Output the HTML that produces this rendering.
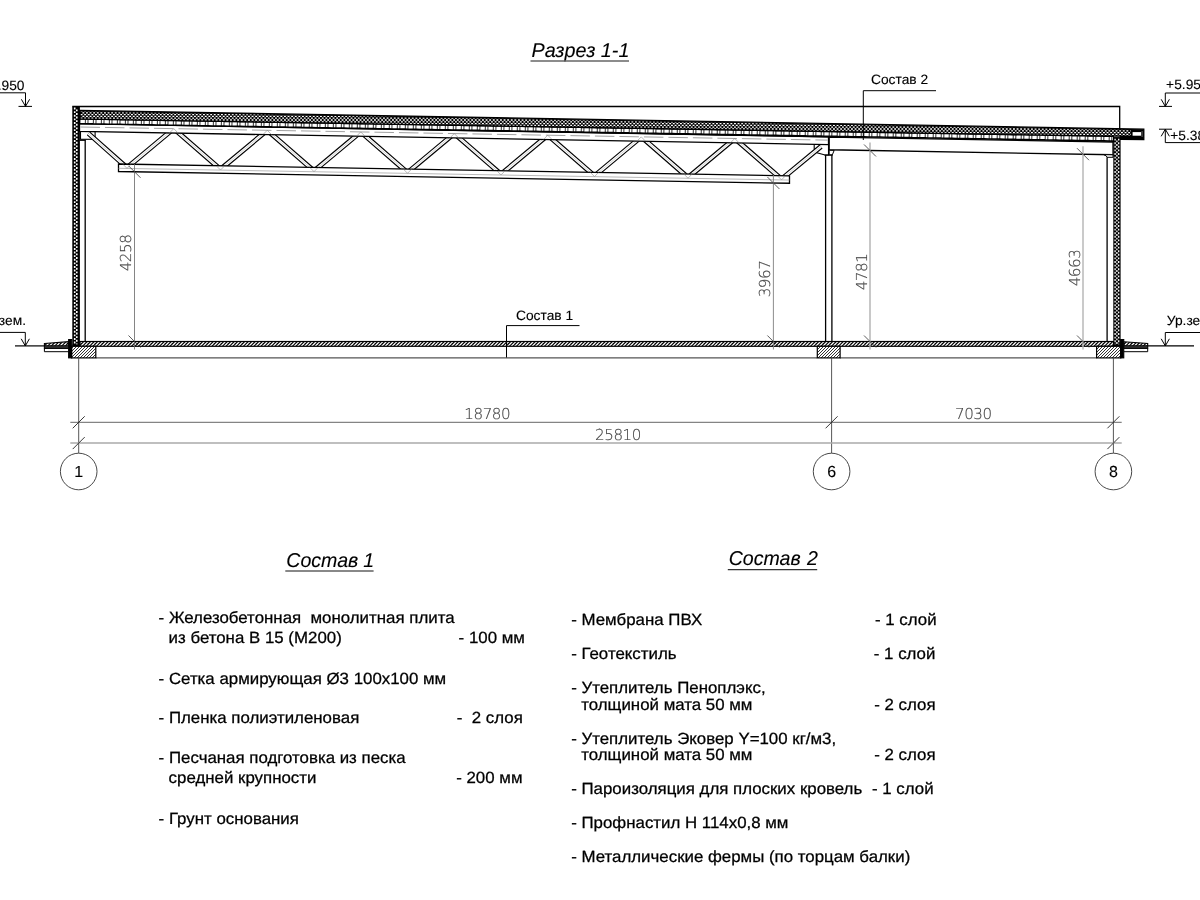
<!DOCTYPE html>
<html lang="ru"><head><meta charset="utf-8"><title>Разрез 1-1</title>
<style>
html,body{margin:0;padding:0;background:#fff;}
body{width:1200px;height:900px;overflow:hidden;font-family:"Liberation Sans",sans-serif;}
svg{display:block;position:absolute;left:0;top:0;}
svg{filter:grayscale(1);}
text{font-family:"Liberation Sans",sans-serif;fill:#000;white-space:pre;text-rendering:geometricPrecision;stroke:#000;stroke-width:0.25px;}
.ttl{font-size:19px;font-style:italic;stroke-width:0.1px;}
.b{font-size:15.3px;}
.s{font-size:13px;stroke-width:0.12px;}
.d{font-family:"DejaVu Sans Light","DejaVu Sans",sans-serif;font-weight:200;font-size:15.1px;letter-spacing:-0.45px;fill:#444;stroke:#444;stroke-width:0.15px;}
.k{stroke:#000;fill:none;}
</style></head><body>
<svg width="1200" height="900" viewBox="0 0 1200 900">
<defs>
<pattern id="fl" width="7" height="7" patternUnits="userSpaceOnUse">
<rect width="7" height="7" fill="#000"/>
<path d="M-3.5,7L3.5,0M0,7L7,0M3.5,7L10.5,0M-3.5,3.5L3.5,-3.5M3.5,10.5L10.5,3.5M0,10.5L7,3.5M0,3.5L3.5,0M7,3.5L3.5,7" stroke="#fff" stroke-width="1.25"/>
</pattern>
<pattern id="fd" width="3" height="3" patternUnits="userSpaceOnUse">
<rect width="3" height="3" fill="#fff"/>
<path d="M-0.75,0.75L0.75,-0.75M-0.5,3.5L3.5,-0.5M2.25,3.75L3.75,2.25" stroke="#000" stroke-width="0.8"/>
</pattern>
</defs>
<rect width="1200" height="900" fill="#fff"/>

<text class="ttl" transform="translate(531.5,57) scale(1.04,1.05)">Разрез 1-1</text>
<line x1="530.50" y1="61.00" x2="629.00" y2="61.00" stroke="#666" stroke-width="1.5" />
<g id="truss">
<rect x="80.50" y="131.50" width="14.60" height="7.80" fill="#fff" stroke="#000" stroke-width="1.1"/>
<polygon points="814.20,144.28 828.50,144.54 828.50,155.00 825.00,155.00 817.00,152.70 814.20,148.80" fill="#fff" stroke="#000" stroke-width="1.1" />
<line x1="88.50" y1="133.50" x2="127.00" y2="167.65" stroke="#000" stroke-width="5.0" />
<line x1="127.00" y1="167.65" x2="173.75" y2="128.65" stroke="#000" stroke-width="5.0" />
<line x1="173.75" y1="128.65" x2="220.50" y2="169.29" stroke="#000" stroke-width="5.0" />
<line x1="220.50" y1="169.29" x2="267.25" y2="130.29" stroke="#000" stroke-width="5.0" />
<line x1="267.25" y1="130.29" x2="314.00" y2="170.93" stroke="#000" stroke-width="5.0" />
<line x1="314.00" y1="170.93" x2="360.75" y2="131.93" stroke="#000" stroke-width="5.0" />
<line x1="360.75" y1="131.93" x2="407.50" y2="172.57" stroke="#000" stroke-width="5.0" />
<line x1="407.50" y1="172.57" x2="454.25" y2="133.57" stroke="#000" stroke-width="5.0" />
<line x1="454.25" y1="133.57" x2="501.00" y2="174.21" stroke="#000" stroke-width="5.0" />
<line x1="501.00" y1="174.21" x2="547.75" y2="135.21" stroke="#000" stroke-width="5.0" />
<line x1="547.75" y1="135.21" x2="594.50" y2="175.85" stroke="#000" stroke-width="5.0" />
<line x1="594.50" y1="175.85" x2="641.25" y2="136.85" stroke="#000" stroke-width="5.0" />
<line x1="641.25" y1="136.85" x2="688.00" y2="177.49" stroke="#000" stroke-width="5.0" />
<line x1="688.00" y1="177.49" x2="734.75" y2="138.49" stroke="#000" stroke-width="5.0" />
<line x1="734.75" y1="138.49" x2="781.50" y2="179.13" stroke="#000" stroke-width="5.0" />
<line x1="781.50" y1="179.13" x2="821.00" y2="146.50" stroke="#000" stroke-width="5.0" />
<line x1="88.50" y1="133.50" x2="127.00" y2="167.65" stroke="#fff" stroke-width="2.7" />
<line x1="127.00" y1="167.65" x2="173.75" y2="128.65" stroke="#fff" stroke-width="2.7" />
<line x1="173.75" y1="128.65" x2="220.50" y2="169.29" stroke="#fff" stroke-width="2.7" />
<line x1="220.50" y1="169.29" x2="267.25" y2="130.29" stroke="#fff" stroke-width="2.7" />
<line x1="267.25" y1="130.29" x2="314.00" y2="170.93" stroke="#fff" stroke-width="2.7" />
<line x1="314.00" y1="170.93" x2="360.75" y2="131.93" stroke="#fff" stroke-width="2.7" />
<line x1="360.75" y1="131.93" x2="407.50" y2="172.57" stroke="#fff" stroke-width="2.7" />
<line x1="407.50" y1="172.57" x2="454.25" y2="133.57" stroke="#fff" stroke-width="2.7" />
<line x1="454.25" y1="133.57" x2="501.00" y2="174.21" stroke="#fff" stroke-width="2.7" />
<line x1="501.00" y1="174.21" x2="547.75" y2="135.21" stroke="#fff" stroke-width="2.7" />
<line x1="547.75" y1="135.21" x2="594.50" y2="175.85" stroke="#fff" stroke-width="2.7" />
<line x1="594.50" y1="175.85" x2="641.25" y2="136.85" stroke="#fff" stroke-width="2.7" />
<line x1="641.25" y1="136.85" x2="688.00" y2="177.49" stroke="#fff" stroke-width="2.7" />
<line x1="688.00" y1="177.49" x2="734.75" y2="138.49" stroke="#fff" stroke-width="2.7" />
<line x1="734.75" y1="138.49" x2="781.50" y2="179.13" stroke="#fff" stroke-width="2.7" />
<line x1="781.50" y1="179.13" x2="821.00" y2="146.50" stroke="#fff" stroke-width="2.7" />
<line x1="88.50" y1="133.50" x2="127.00" y2="167.65" stroke="#aaa" stroke-width="0.5" />
<line x1="127.00" y1="167.65" x2="173.75" y2="128.65" stroke="#aaa" stroke-width="0.5" />
<line x1="173.75" y1="128.65" x2="220.50" y2="169.29" stroke="#aaa" stroke-width="0.5" />
<line x1="220.50" y1="169.29" x2="267.25" y2="130.29" stroke="#aaa" stroke-width="0.5" />
<line x1="267.25" y1="130.29" x2="314.00" y2="170.93" stroke="#aaa" stroke-width="0.5" />
<line x1="314.00" y1="170.93" x2="360.75" y2="131.93" stroke="#aaa" stroke-width="0.5" />
<line x1="360.75" y1="131.93" x2="407.50" y2="172.57" stroke="#aaa" stroke-width="0.5" />
<line x1="407.50" y1="172.57" x2="454.25" y2="133.57" stroke="#aaa" stroke-width="0.5" />
<line x1="454.25" y1="133.57" x2="501.00" y2="174.21" stroke="#aaa" stroke-width="0.5" />
<line x1="501.00" y1="174.21" x2="547.75" y2="135.21" stroke="#aaa" stroke-width="0.5" />
<line x1="547.75" y1="135.21" x2="594.50" y2="175.85" stroke="#aaa" stroke-width="0.5" />
<line x1="594.50" y1="175.85" x2="641.25" y2="136.85" stroke="#aaa" stroke-width="0.5" />
<line x1="641.25" y1="136.85" x2="688.00" y2="177.49" stroke="#aaa" stroke-width="0.5" />
<line x1="688.00" y1="177.49" x2="734.75" y2="138.49" stroke="#aaa" stroke-width="0.5" />
<line x1="734.75" y1="138.49" x2="781.50" y2="179.13" stroke="#aaa" stroke-width="0.5" />
<line x1="781.50" y1="179.13" x2="821.00" y2="146.50" stroke="#aaa" stroke-width="0.5" />
<polygon points="118.50,164.00 789.50,175.77 789.50,183.27 118.50,171.50" fill="#fff" stroke="#000" stroke-width="1.3" />
<line x1="118.50" y1="168.30" x2="789.50" y2="180.07" stroke="#999" stroke-width="0.7" />
<polygon points="79.50,123.70 828.50,136.84 828.50,144.54 79.50,131.40" fill="#fff" stroke="#000" stroke-width="1.3" />
<line x1="80.50" y1="127.02" x2="827.50" y2="140.12" stroke="#888" stroke-width="0.8" stroke-dasharray="19.5 5"/>
<path d="M169.55,132.85L173.75,128.65L177.95,132.85" stroke="#888" stroke-width="0.6" fill="none"/>
<path d="M263.05,134.49L267.25,130.29L271.45,134.49" stroke="#888" stroke-width="0.6" fill="none"/>
<path d="M356.55,136.13L360.75,131.93L364.95,136.13" stroke="#888" stroke-width="0.6" fill="none"/>
<path d="M450.05,137.77L454.25,133.57L458.45,137.77" stroke="#888" stroke-width="0.6" fill="none"/>
<path d="M543.55,139.41L547.75,135.21L551.95,139.41" stroke="#888" stroke-width="0.6" fill="none"/>
<path d="M637.05,141.05L641.25,136.85L645.45,141.05" stroke="#888" stroke-width="0.6" fill="none"/>
<path d="M730.55,142.69L734.75,138.49L738.95,142.69" stroke="#888" stroke-width="0.6" fill="none"/>
<path d="M123.00,164.35L127.00,168.35L131.00,164.35" stroke="#888" stroke-width="0.6" fill="none"/>
<path d="M216.50,165.99L220.50,169.99L224.50,165.99" stroke="#888" stroke-width="0.6" fill="none"/>
<path d="M310.00,167.63L314.00,171.63L318.00,167.63" stroke="#888" stroke-width="0.6" fill="none"/>
<path d="M403.50,169.27L407.50,173.27L411.50,169.27" stroke="#888" stroke-width="0.6" fill="none"/>
<path d="M497.00,170.91L501.00,174.91L505.00,170.91" stroke="#888" stroke-width="0.6" fill="none"/>
<path d="M590.50,172.55L594.50,176.55L598.50,172.55" stroke="#888" stroke-width="0.6" fill="none"/>
<path d="M684.00,174.19L688.00,178.19L692.00,174.19" stroke="#888" stroke-width="0.6" fill="none"/>
<path d="M777.50,175.83L781.50,179.83L785.50,175.83" stroke="#888" stroke-width="0.6" fill="none"/>
</g>
<g id="roof">
<polygon points="79.50,118.90 1113.50,136.06 1113.50,142.04 79.50,123.90" fill="#000" stroke="#000" stroke-width="1.0" />
<line x1="80.40" y1="121.31" x2="1113.00" y2="138.66" stroke="#fff" stroke-width="3.2" stroke-dasharray="4.5 0.8 1.9 0.8"/>
<polygon points="79.50,110.40 1143.80,129.13 1143.80,139.70 1120.50,139.30 1120.50,136.18 79.50,118.90" fill="#000" stroke="#000" stroke-width="1.3" />
<clipPath id="insclip"><polygon points="80.40,111.42 1130.60,129.90 1130.60,135.85 80.40,118.41"/></clipPath>
<g clip-path="url(#insclip)">
<line x1="80.60" y1="111.00" x2="1131.00" y2="111.00" stroke="#fff" stroke-width="1.3" stroke-dasharray="1.9 1.7"/>
<line x1="82.40" y1="112.80" x2="1131.00" y2="112.80" stroke="#fff" stroke-width="1.3" stroke-dasharray="1.9 1.7"/>
<line x1="80.60" y1="114.60" x2="1131.00" y2="114.60" stroke="#fff" stroke-width="1.3" stroke-dasharray="1.9 1.7"/>
<line x1="82.40" y1="116.40" x2="1131.00" y2="116.40" stroke="#fff" stroke-width="1.3" stroke-dasharray="1.9 1.7"/>
<line x1="80.60" y1="118.20" x2="1131.00" y2="118.20" stroke="#fff" stroke-width="1.3" stroke-dasharray="1.9 1.7"/>
<line x1="82.40" y1="120.00" x2="1131.00" y2="120.00" stroke="#fff" stroke-width="1.3" stroke-dasharray="1.9 1.7"/>
<line x1="80.60" y1="121.80" x2="1131.00" y2="121.80" stroke="#fff" stroke-width="1.3" stroke-dasharray="1.9 1.7"/>
<line x1="82.40" y1="123.60" x2="1131.00" y2="123.60" stroke="#fff" stroke-width="1.3" stroke-dasharray="1.9 1.7"/>
<line x1="80.60" y1="125.40" x2="1131.00" y2="125.40" stroke="#fff" stroke-width="1.3" stroke-dasharray="1.9 1.7"/>
<line x1="82.40" y1="127.20" x2="1131.00" y2="127.20" stroke="#fff" stroke-width="1.3" stroke-dasharray="1.9 1.7"/>
<line x1="80.60" y1="129.00" x2="1131.00" y2="129.00" stroke="#fff" stroke-width="1.3" stroke-dasharray="1.9 1.7"/>
<line x1="82.40" y1="130.80" x2="1131.00" y2="130.80" stroke="#fff" stroke-width="1.3" stroke-dasharray="1.9 1.7"/>
<line x1="80.60" y1="132.60" x2="1131.00" y2="132.60" stroke="#fff" stroke-width="1.3" stroke-dasharray="1.9 1.7"/>
<line x1="82.40" y1="134.40" x2="1131.00" y2="134.40" stroke="#fff" stroke-width="1.3" stroke-dasharray="1.9 1.7"/>
<line x1="80.60" y1="136.20" x2="1131.00" y2="136.20" stroke="#fff" stroke-width="1.3" stroke-dasharray="1.9 1.7"/>
</g>
<rect x="1132.60" y="132.10" width="8.60" height="3.60" fill="#fff" stroke="none" stroke-width="0"/>
<line x1="1142.10" y1="131.00" x2="1142.10" y2="137.00" stroke="#555" stroke-width="1.2" />
<path d="M72.3,106.5H1119.7V128.71" class="k" stroke-width="1.3"/>
</g>
<g id="beam">
<polygon points="829.20,137.05 1113.00,142.03 1113.00,154.73 829.20,149.75" fill="#fff" stroke="#000" stroke-width="1.3" />
<polygon points="829.20,150.30 834.20,150.40 832.30,154.90 829.20,154.90" fill="#fff" stroke="#000" stroke-width="1.0" />
<polygon points="1104.00,154.70 1113.00,154.80 1113.00,157.30 1107.10,157.30 1106.30,156.00" fill="#fff" stroke="#000" stroke-width="1.0" />
</g>
<g id="walls">
<rect x="72.30" y="106.50" width="7.60" height="239.00" fill="#000" stroke="none" stroke-width="0"/>
<line x1="74.70" y1="107.60" x2="74.70" y2="344.50" stroke="#fff" stroke-width="1.6" stroke-dasharray="1.9 1.7"/>
<line x1="76.80" y1="109.40" x2="76.80" y2="344.50" stroke="#fff" stroke-width="1.6" stroke-dasharray="1.9 1.7"/>
<line x1="85.20" y1="140.30" x2="85.20" y2="341.50" stroke="#000" stroke-width="1.3" />
<line x1="79.50" y1="140.30" x2="85.80" y2="140.30" stroke="#000" stroke-width="1.2" />
<line x1="824.60" y1="155.10" x2="832.60" y2="155.10" stroke="#000" stroke-width="1.2" />
<line x1="825.60" y1="155.00" x2="825.60" y2="341.50" stroke="#000" stroke-width="1.3" />
<line x1="831.90" y1="155.00" x2="831.90" y2="341.50" stroke="#000" stroke-width="1.3" />
<rect x="1113.30" y="137.07" width="7.30" height="208.43" fill="#000" stroke="none" stroke-width="0"/>
<line x1="1115.10" y1="138.67" x2="1115.10" y2="344.50" stroke="#fff" stroke-width="1.3" stroke-dasharray="1.9 1.7"/>
<line x1="1116.90" y1="140.47" x2="1116.90" y2="344.50" stroke="#fff" stroke-width="1.3" stroke-dasharray="1.9 1.7"/>
<line x1="1118.70" y1="138.67" x2="1118.70" y2="344.50" stroke="#fff" stroke-width="1.3" stroke-dasharray="1.9 1.7"/>
<line x1="1107.10" y1="157.30" x2="1107.10" y2="341.50" stroke="#000" stroke-width="1.3" />
</g>
<g id="floor">
<line x1="96.00" y1="357.80" x2="817.00" y2="357.80" stroke="#555" stroke-width="1.3" />
<line x1="840.00" y1="357.80" x2="1096.50" y2="357.80" stroke="#555" stroke-width="1.3" />
<rect x="80.00" y="341.50" width="1033.50" height="4.80" fill="url(#fl)" stroke="#000" stroke-width="1.2"/>
<rect x="71.50" y="346.30" width="24.30" height="11.60" fill="url(#fd)" stroke="#000" stroke-width="1.2"/>
<rect x="817.30" y="346.30" width="22.80" height="11.60" fill="url(#fd)" stroke="#000" stroke-width="1.2"/>
<rect x="1096.60" y="346.30" width="24.20" height="11.60" fill="url(#fd)" stroke="#000" stroke-width="1.2"/>
<rect x="68.60" y="339.50" width="3.20" height="18.40" fill="#000" stroke="#000" stroke-width="1.0"/>
<rect x="1120.60" y="339.50" width="3.20" height="18.40" fill="#000" stroke="#000" stroke-width="1.0"/>
<line x1="72.20" y1="345.40" x2="80.00" y2="345.40" stroke="#000" stroke-width="1.6" />
<line x1="1113.00" y1="345.40" x2="1121.00" y2="345.40" stroke="#000" stroke-width="1.6" />
<polygon points="44.40,343.50 68.40,341.70 68.40,348.50 44.40,348.50" fill="url(#fl)" stroke="#000" stroke-width="1.1" />
<rect x="44.40" y="345.40" width="24.00" height="3.10" fill="#2a2a2a" stroke="#000" stroke-width="0.6"/>
<path d="M44.4,348.6V351.7H68.6" class="k" stroke-width="1.0"/>
<polygon points="1124.00,341.70 1147.70,343.50 1147.70,348.50 1124.00,348.50" fill="url(#fl)" stroke="#000" stroke-width="1.1" />
<rect x="1124.00" y="345.40" width="23.70" height="3.10" fill="#2a2a2a" stroke="#000" stroke-width="0.6"/>
<path d="M1147.7,348.6V351.7H1124" class="k" stroke-width="1.0"/>
<line x1="15.00" y1="345.90" x2="44.60" y2="345.90" stroke="#000" stroke-width="1.2" />
<line x1="1147.60" y1="345.90" x2="1194.00" y2="345.90" stroke="#000" stroke-width="1.2" />
</g>
<g id="levels">
<path d="M0,92.8H25.5V106.4" class="k" stroke-width="1"/>
<path d="M21.40,99.30L25.50,106.40L29.60,99.30" stroke="#000" stroke-width="1" fill="none"/>
<line x1="18.50" y1="106.40" x2="32.00" y2="106.40" stroke="#000" stroke-width="1" />
<text class="s" transform="translate(-18.00,89.70) scale(1.06,1.04)">+5.950</text>
<path d="M1200,93H1165.3V106.4" class="k" stroke-width="1"/>
<path d="M1161.20,99.30L1165.30,106.40L1169.40,99.30" stroke="#000" stroke-width="1" fill="none"/>
<line x1="1159.00" y1="106.40" x2="1172.00" y2="106.40" stroke="#000" stroke-width="1" />
<text class="s" transform="translate(1166.10,89.20) scale(1.06,1.04)">+5.950</text>
<path d="M1200,142.6H1165.3V129.2" class="k" stroke-width="1"/>
<path d="M1161.20,136.30L1165.30,129.20L1169.40,136.30" stroke="#000" stroke-width="1" fill="none"/>
<line x1="1159.00" y1="129.20" x2="1172.00" y2="129.20" stroke="#000" stroke-width="1" />
<text class="s" transform="translate(1170.20,140.30) scale(1.06,1.04)">+5.380</text>
<path d="M0,332.4H25.3V345.9" class="k" stroke-width="1"/>
<path d="M21.20,338.80L25.30,345.90L29.40,338.80" stroke="#000" stroke-width="1" fill="none"/>
<text class="s" transform="translate(-20.80,325.40) scale(1.06,1.04)">Ур.зем.</text>
<path d="M1200,332.5H1165.3V345.9" class="k" stroke-width="1"/>
<path d="M1161.20,338.80L1165.30,345.90L1169.40,338.80" stroke="#000" stroke-width="1" fill="none"/>
<text class="s" transform="translate(1166.80,325.00) scale(1.06,1.04)">Ур.зем.</text>
</g>
<g id="leaders">
<path d="M506.5,357.5V325.6H579.5" class="k" stroke-width="1"/>
<text class="s" transform="translate(516.00,319.80) scale(1.06,1.04)">Состав 1</text>
<path d="M863.3,140V90.7H936" class="k" stroke-width="1"/>
<text class="s" transform="translate(871.00,84.00) scale(1.06,1.04)">Состав 2</text>
</g>
<g id="dims">
<line x1="134.50" y1="163.78" x2="134.50" y2="349.50" stroke="#666" stroke-width="0.8" />
<line x1="128.50" y1="165.78" x2="140.50" y2="177.78" stroke="#333" stroke-width="0.8" />
<line x1="128.50" y1="335.50" x2="140.50" y2="347.50" stroke="#333" stroke-width="0.8" />
<text class="d" text-anchor="middle" transform="translate(131.1,253.0) rotate(-90) scale(1.001,1)">4258</text>
<line x1="773.40" y1="174.98" x2="773.40" y2="349.50" stroke="#808080" stroke-width="0.9" />
<line x1="767.40" y1="176.98" x2="779.40" y2="188.98" stroke="#333" stroke-width="0.8" />
<line x1="767.40" y1="335.50" x2="779.40" y2="347.50" stroke="#333" stroke-width="0.8" />
<text class="d" text-anchor="middle" transform="translate(770.0,279.0) rotate(-90) scale(1.001,1)">3967</text>
<line x1="870.00" y1="142.47" x2="870.00" y2="349.50" stroke="#aaa" stroke-width="1.3" />
<line x1="864.00" y1="144.47" x2="876.00" y2="156.47" stroke="#333" stroke-width="0.8" />
<line x1="864.00" y1="335.50" x2="876.00" y2="347.50" stroke="#333" stroke-width="0.8" />
<text class="d" text-anchor="middle" transform="translate(866.6,272.0) rotate(-90) scale(1.001,1)">4781</text>
<line x1="1083.00" y1="146.20" x2="1083.00" y2="349.50" stroke="#b4b4b4" stroke-width="1.4" />
<line x1="1077.00" y1="148.20" x2="1089.00" y2="160.20" stroke="#333" stroke-width="0.8" />
<line x1="1077.00" y1="335.50" x2="1089.00" y2="347.50" stroke="#333" stroke-width="0.8" />
<text class="d" text-anchor="middle" transform="translate(1079.6,268.0) rotate(-90) scale(1.001,1)">4663</text>
<line x1="78.70" y1="358.00" x2="78.70" y2="453.20" stroke="#444" stroke-width="0.9" />
<line x1="831.60" y1="358.00" x2="831.60" y2="453.20" stroke="#444" stroke-width="0.9" />
<line x1="1113.40" y1="358.00" x2="1113.40" y2="453.20" stroke="#444" stroke-width="0.9" />
<line x1="70.30" y1="422.30" x2="1121.70" y2="422.30" stroke="#555" stroke-width="0.9" />
<line x1="70.30" y1="443.10" x2="1121.70" y2="443.10" stroke="#aaa" stroke-width="1.5" />
<line x1="72.70" y1="428.30" x2="84.70" y2="416.30" stroke="#222" stroke-width="0.9" />
<line x1="825.60" y1="428.30" x2="837.60" y2="416.30" stroke="#222" stroke-width="0.9" />
<line x1="1107.40" y1="428.30" x2="1119.40" y2="416.30" stroke="#222" stroke-width="0.9" />
<line x1="72.70" y1="449.10" x2="84.70" y2="437.10" stroke="#222" stroke-width="0.9" />
<line x1="1107.40" y1="449.10" x2="1119.40" y2="437.10" stroke="#222" stroke-width="0.9" />
<text class="d" text-anchor="middle" transform="translate(487.2,419) scale(1.001,1)">18780</text>
<text class="d" text-anchor="middle" transform="translate(973.3,418.6) scale(1.001,1)">7030</text>
<text class="d" text-anchor="middle" transform="translate(618,439.6) scale(1.001,1)">25810</text>
<circle cx="78.7" cy="471.5" r="18.3" fill="#fff" stroke="#333" stroke-width="0.9"/>
<text x="78.7" y="477.2" text-anchor="middle" style="font-size:16px;stroke-width:0.1px">1</text>
<circle cx="831.6" cy="471.5" r="18.3" fill="#fff" stroke="#333" stroke-width="0.9"/>
<text x="831.6" y="477.2" text-anchor="middle" style="font-size:16px;stroke-width:0.1px">6</text>
<circle cx="1113.4" cy="471.5" r="18.3" fill="#fff" stroke="#333" stroke-width="0.9"/>
<text x="1113.4" y="477.2" text-anchor="middle" style="font-size:16px;stroke-width:0.1px">8</text>
</g>
<g id="notes">
<text class="ttl" transform="translate(286.3,566.8) scale(1.03,1.05)">Состав <tspan dx="-0.5">1</tspan></text>
<line x1="285.30" y1="571.00" x2="373.60" y2="571.00" stroke="#888" stroke-width="1.8" />
<text class="ttl" transform="translate(728.7,565.1) scale(1.03,1.05)">Состав <tspan dx="0.9">2</tspan></text>
<line x1="727.80" y1="569.60" x2="817.20" y2="569.60" stroke="#333" stroke-width="1.25" />
<text class="b" transform="translate(158.60,623.00) scale(1.102,1.06)">- Железобетонная  монолитная плита</text>
<text class="b" transform="translate(168.60,643.00) scale(1.102,1.06)">из бетона В 15 (М200)</text>
<text class="b" transform="translate(458.60,643.00) scale(1.102,1.06)">- 100 мм</text>
<text class="b" transform="translate(158.60,683.50) scale(1.102,1.06)">- Сетка армирующая Ø3 100х100 мм</text>
<text class="b" transform="translate(158.60,723.30) scale(1.102,1.06)">- Пленка полиэтиленовая</text>
<text class="b" transform="translate(456.80,723.30) scale(1.102,1.06)">-  2 слоя</text>
<text class="b" transform="translate(158.60,763.30) scale(1.102,1.06)">- Песчаная подготовка из песка</text>
<text class="b" transform="translate(168.60,783.40) scale(1.102,1.06)">средней крупности</text>
<text class="b" transform="translate(456.20,783.40) scale(1.102,1.06)">- 200 мм</text>
<text class="b" transform="translate(158.60,823.50) scale(1.102,1.06)">- Грунт основания</text>
<text class="b" transform="translate(571.20,625.30) scale(1.102,1.06)">- Мембрана ПВХ</text>
<text class="b" transform="translate(875.00,625.30) scale(1.102,1.06)">- 1 слой</text>
<text class="b" transform="translate(571.20,659.30) scale(1.102,1.06)">- Геотекстиль</text>
<text class="b" transform="translate(873.80,659.30) scale(1.102,1.06)">- 1 слой</text>
<text class="b" transform="translate(571.20,692.80) scale(1.102,1.06)">- Утеплитель Пеноплэкс,</text>
<text class="b" transform="translate(581.20,709.80) scale(1.102,1.06)">толщиной мата 50 мм</text>
<text class="b" transform="translate(874.20,709.80) scale(1.102,1.06)">- 2 слоя</text>
<text class="b" transform="translate(571.20,743.50) scale(1.102,1.06)">- Утеплитель Эковер Y=100 кг/м3,</text>
<text class="b" transform="translate(581.20,760.30) scale(1.102,1.06)">толщиной мата 50 мм</text>
<text class="b" transform="translate(874.20,760.30) scale(1.102,1.06)">- 2 слоя</text>
<text class="b" transform="translate(571.20,794.30) scale(1.102,1.06)">- Пароизоляция для плоских кровель</text>
<text class="b" transform="translate(872.00,794.30) scale(1.102,1.06)">- 1 слой</text>
<text class="b" transform="translate(571.20,828.00) scale(1.102,1.06)">- Профнастил Н 114х0,8 мм</text>
<text class="b" transform="translate(571.20,861.50) scale(1.102,1.06)">- Металлические фермы (по торцам балки)</text>
</g>
</svg>
</body></html>
